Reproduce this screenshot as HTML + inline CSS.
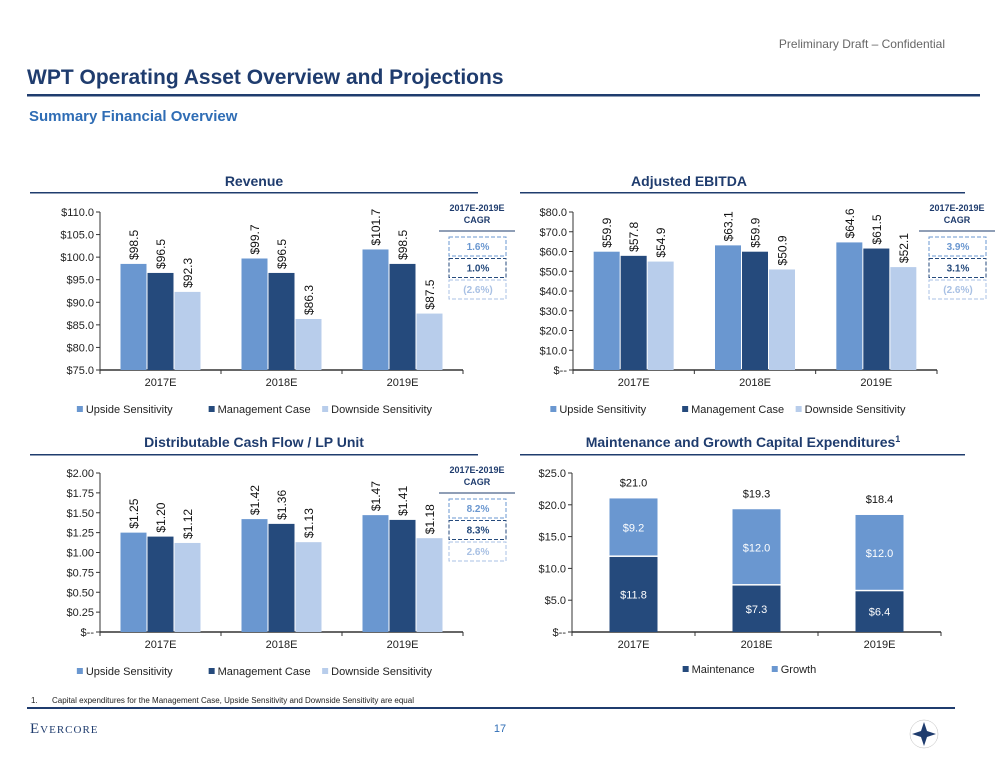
<!DOCTYPE html>
<html><head><meta charset="utf-8"><style>
body{margin:0;background:#fff;width:1000px;height:774px;overflow:hidden;font-family:"Liberation Sans",sans-serif}
svg text{font-family:"Liberation Sans",sans-serif}
</style></head><body>
<svg id="s" width="1000" height="774" viewBox="0 0 1000 774" xmlns="http://www.w3.org/2000/svg">
<text x="945" y="48" text-anchor="end" font-size="12" fill="#666">Preliminary Draft – Confidential</text>
<text x="27" y="84" font-size="21" font-weight="bold" fill="#1f3c6e">WPT Operating Asset Overview and Projections</text>
<rect x="27" y="94" width="953" height="2.5" fill="#1f3c6e"/>
<text x="29" y="121" font-size="15" font-weight="bold" fill="#2f6db5">Summary Financial Overview</text>

<text x="254" y="186" text-anchor="middle" font-size="14" font-weight="bold" fill="#1f3c6e">Revenue</text>
<rect x="30" y="192" width="448" height="1.5" fill="#1f3c6e"/>
<text x="689" y="186" text-anchor="middle" font-size="14" font-weight="bold" fill="#1f3c6e">Adjusted EBITDA</text>
<rect x="520" y="192" width="445" height="1.5" fill="#1f3c6e"/>
<text x="254" y="447" text-anchor="middle" font-size="14" font-weight="bold" fill="#1f3c6e">Distributable Cash Flow / LP Unit</text>
<rect x="30" y="454" width="448" height="1.5" fill="#1f3c6e"/>
<text x="743" y="447" text-anchor="middle" font-size="14" font-weight="bold" fill="#1f3c6e">Maintenance and Growth Capital Expenditures<tspan font-size="9" dy="-5">1</tspan></text>
<rect x="520" y="454" width="445" height="1.5" fill="#1f3c6e"/>

<text x="31" y="703" font-size="8" fill="#222">1.<tspan x="52">Capital expenditures for the Management Case, Upside Sensitivity and Downside Sensitivity are equal</tspan></text>
<rect x="27" y="707" width="928" height="2" fill="#1f3c6e"/>
<text x="30" y="733" font-size="15" fill="#1f3c6e" letter-spacing="1" style="font-family:'Liberation Serif',serif">E<tspan font-size="11">VERCORE</tspan></text>
<text x="500" y="732" text-anchor="middle" font-size="11" fill="#2f6db5">17</text>
<g>
<circle cx="924" cy="734" r="14" fill="none" stroke="#bbb" stroke-width="0.5"/>
<polygon points="924,722 927,731 936,734 927,737 924,746 921,737 912,734 921,731" fill="#1f3c6e"/>
</g>
<g id="charts"></g>
</svg>
<script>
// Revenue
const cats = ["2017E","2018E","2019E"];
const revUpside = [98.5, 99.7, 101.7];
const revMgmt = [96.5, 96.5, 98.5];
const revDown = [92.3, 86.3, 87.5];
const revTicks = [75,80,85,90,95,100,105,110];
// EBITDA
const ebUpside = [59.9, 63.1, 64.6];
const ebMgmt = [57.8, 59.9, 61.5];
const ebDown = [54.9, 50.9, 52.1];
const ebTicks = [0,10,20,30,40,50,60,70,80];
// DCF per LP unit
const dcfUpside = [1.25, 1.42, 1.47];
const dcfMgmt = [1.20, 1.36, 1.41];
const dcfDown = [1.12, 1.13, 1.18];
const dcfTicks = [0,0.25,0.5,0.75,1,1.25,1.5,1.75,2];
// Capex
const capMaint = [11.8, 7.3, 6.4];
const capGrowth = [9.2, 12.0, 12.0];
const capTotal = [21.0, 19.3, 18.4];
const capTicks = [0,5,10,15,20,25];
// CAGR
const revCagr = ["1.6%","1.0%","(2.6%)"];
const ebCagr = ["3.9%","3.1%","(2.6%)"];
const dcfCagr = ["8.2%","8.3%","2.6%"];

const C = {up:"#6a97d0", mg:"#254a7c", dn:"#b8cdeb"};
const NS = "http://www.w3.org/2000/svg";
const root = document.getElementById('charts');
function mk(tag, at, parent){const e=document.createElementNS(NS,tag);for(const k in at)e.setAttribute(k,at[k]);(parent||root).appendChild(e);return e;}
function txt(s,at,parent){const e=mk('text',at,parent);e.textContent=s;return e;}

function axes(g,cfg,ticks,fmt){
  const y = v => cfg.yb - (v-cfg.min)/(cfg.max-cfg.min)*(cfg.yb-cfg.yt);
  ticks.forEach(t=>{
    const l=mk('line',{x1:cfg.x0-4,x2:cfg.x0,y1:y(t),y2:y(t),stroke:"#333"},g);
    
    
    const tl=txt(fmt(t),{x:cfg.x0-6,y:y(t)+4,"text-anchor":"end","font-size":11,fill:"#222"},g);
    
    
  });
  const ya=mk('line',{x1:cfg.x0,x2:cfg.x0,y1:cfg.yt,y2:cfg.yb,stroke:"#333"},g);
  
  
  const xa=mk('line',{x1:cfg.x0,x2:cfg.x1,y1:cfg.yb,y2:cfg.yb,stroke:"#333","stroke-width":1.5},g);
  
  
  const cw=(cfg.x1-cfg.x0)/cats.length;
  for(let i=0;i<=cats.length;i++){
    const tk=mk('line',{x1:cfg.x0+i*cw,x2:cfg.x0+i*cw,y1:cfg.yb,y2:cfg.yb+4,stroke:"#333"},g);
    
    
  }
  cats.forEach((c,i)=>{
    const t=txt(c,{x:cfg.x0+(i+0.5)*cw,y:cfg.yb+16,"text-anchor":"middle","font-size":11,fill:"#222"},g);
    
    
  });
  return {y,cw};
}
function legend(g,cx,y,items){
  let widths=items.map(it=>it[0].length*6.1+22);
  let tot=widths.reduce((a,b)=>a+b,0);
  let x=cx-tot/2;
  items.forEach((it,i)=>{
    const sq=mk('rect',{x:x,y:y-7,width:6,height:6,fill:it[1]},g);
    
    
    const t=txt(it[0],{x:x+9,y:y,"font-size":11,fill:"#222"},g);
    
    
    x+=widths[i];
  });
}
function grouped(name,cfg,series,ticks,fmt,lfmt){
  const g=mk('g',{});
  
  
  const {y,cw}=axes(g,cfg,ticks,fmt);
  const cols=[C.up,C.mg,C.dn];
  cats.forEach((c,i)=>{
    const cx=cfg.x0+(i+0.5)*cw;
    series.forEach((s,j)=>{
      const bx=cx-40+j*27, by=y(s[i]);
      const r=mk('rect',{x:bx,y:by,width:26,height:cfg.yb-by,fill:cols[j]},g);
      
      
      const tx=bx+13+4.5, ty=by-4;
      const t=txt(lfmt(s[i]),{x:tx,y:ty,"font-size":12,fill:"#111",transform:`rotate(-90 ${tx} ${ty})`},g);
      
      
    });
  });
  legend(g,(cfg.x0+cfg.x1)/2-10,cfg.yb+43,[["Upside Sensitivity",C.up],["Management Case",C.mg],["Downside Sensitivity",C.dn]]);
}
function cagr(cx,yHead,vals){
  const g=mk('g',{});
  
  
  txt("2017E-2019E",{x:cx,y:yHead,"text-anchor":"middle","font-size":9,"font-weight":"bold",fill:"#1f3c6e"},g);
  txt("CAGR",{x:cx,y:yHead+12,"text-anchor":"middle","font-size":9,"font-weight":"bold",fill:"#1f3c6e"},g);
  mk('line',{x1:cx-38,x2:cx+38,y1:yHead+20,y2:yHead+20,stroke:"#1f3c6e","stroke-width":1},g);
  const cols=[C.up,C.mg,"#a9c1e4"];
  vals.forEach((v,i)=>{
    const by=yHead+26+i*21.5;
    mk('rect',{x:cx-28,y:by,width:57,height:19,fill:"none",stroke:cols[i],"stroke-dasharray":"4,2"},g);
    txt(v,{x:cx+1,y:by+13,"text-anchor":"middle","font-size":10,"font-weight":"bold",fill:cols[i]},g);
  });
}
const d1 = v=>"$"+v.toFixed(1);
const d1z = v=>v===0?"$--":"$"+v.toFixed(1);
const d2 = v=>v===0?"$--":"$"+v.toFixed(2);
grouped('revenue',{x0:100,x1:463,yt:212,yb:370,min:75,max:110},[revUpside,revMgmt,revDown],revTicks,d1,d1);
grouped('ebitda',{x0:573,x1:937,yt:212,yb:370,min:0,max:80},[ebUpside,ebMgmt,ebDown],ebTicks,d1z,d1);
grouped('dcf',{x0:100,x1:463,yt:473,yb:632,min:0,max:2},[dcfUpside,dcfMgmt,dcfDown],dcfTicks,d2,d2);
cagr(477,211,revCagr);
cagr(957,211,ebCagr);
cagr(477,473,dcfCagr);

// Capex stacked
(function(){
  const cfg={x0:572,x1:941,yt:473,yb:632,min:0,max:25};
  const g=mk('g',{});
  
  
  const {y,cw}=axes(g,cfg,capTicks,d1z);
  cats.forEach((c,i)=>{
    const cx=cfg.x0+(i+0.5)*cw;
    const ym=y(capMaint[i]), yg=y(capMaint[i]+capGrowth[i]);
    const r1=mk('rect',{x:cx-24,y:ym,width:48,height:cfg.yb-ym,fill:C.mg},g);
    
    
    const r2=mk('rect',{x:cx-24,y:yg,width:48,height:ym-yg-1.5,fill:C.up},g);
    
    
    const t1=txt(d1(capMaint[i]),{x:cx,y:(ym+cfg.yb)/2+4,"text-anchor":"middle","font-size":11,fill:"#fff"},g);
    
    
    const t2=txt(d1(capGrowth[i]),{x:cx,y:(ym+yg)/2+4,"text-anchor":"middle","font-size":11,fill:"#fff"},g);
    
    
    const t3=txt(d1(capTotal[i]),{x:cx,y:yg-12,"text-anchor":"middle","font-size":11,fill:"#111"},g);
    
    
  });
  legend(g,(cfg.x0+cfg.x1)/2,cfg.yb+41,[["Maintenance",C.mg],["Growth",C.up]]);
})();
</script>
</body></html>
